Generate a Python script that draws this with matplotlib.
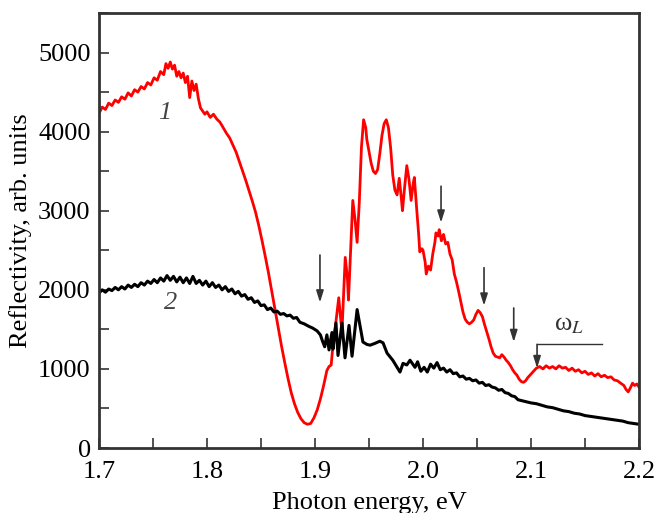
import numpy as np
import matplotlib
matplotlib.use('agg')
import matplotlib.pyplot as plt
from matplotlib.ticker import MultipleLocator

plt.rcParams['font.family'] = ['Liberation Serif', 'DejaVu Serif']
plt.rcParams['mathtext.fontset'] = 'stix'

#*********************************** DATA **************************************
red_x = [1.700, 1.703, 1.706, 1.709, 1.712, 1.715, 1.718, 1.721, 1.724, 1.727,
         1.730, 1.733, 1.736, 1.739, 1.742, 1.745, 1.748, 1.751, 1.754, 1.757,
         1.760, 1.762, 1.764, 1.766, 1.768, 1.770, 1.772, 1.774, 1.776, 1.778,
         1.780, 1.782, 1.784, 1.786, 1.788, 1.790, 1.792, 1.794, 1.796, 1.798,
         1.800, 1.803, 1.806, 1.809, 1.812, 1.815, 1.818, 1.821, 1.824, 1.827,
         1.830, 1.833, 1.836, 1.839, 1.842, 1.845, 1.848, 1.851, 1.854, 1.857,
         1.860, 1.863, 1.866, 1.869, 1.872, 1.875, 1.878, 1.881, 1.884, 1.887,
         1.890, 1.893, 1.896, 1.899, 1.902, 1.905, 1.908, 1.911, 1.913, 1.915,
         1.917, 1.919, 1.922, 1.924, 1.925, 1.927, 1.928, 1.930, 1.931, 1.933,
         1.935, 1.937, 1.939, 1.941, 1.943, 1.945, 1.947, 1.948, 1.950, 1.952,
         1.954, 1.956, 1.958, 1.960, 1.962, 1.964, 1.966, 1.968, 1.970, 1.972,
         1.974, 1.976, 1.978, 1.980, 1.981, 1.983, 1.985, 1.987, 1.989, 1.991,
         1.992, 1.994, 1.996, 1.997, 1.999, 2.000, 2.002, 2.003, 2.005, 2.007,
         2.009, 2.011, 2.012, 2.014, 2.015, 2.017, 2.019, 2.021, 2.023, 2.025,
         2.027, 2.029, 2.031, 2.033, 2.035, 2.037, 2.039, 2.041, 2.043, 2.045,
         2.047, 2.049, 2.051, 2.053, 2.055, 2.057, 2.059, 2.061, 2.063, 2.065,
         2.067, 2.069, 2.071, 2.073, 2.075, 2.077, 2.079, 2.081, 2.083, 2.085,
         2.087, 2.089, 2.091, 2.093, 2.095, 2.097, 2.099, 2.101, 2.103, 2.105,
         2.108, 2.111, 2.114, 2.117, 2.120, 2.123, 2.126, 2.129, 2.132, 2.135,
         2.138, 2.141, 2.144, 2.147, 2.150, 2.153, 2.156, 2.159, 2.162, 2.165,
         2.168, 2.171, 2.174, 2.177, 2.180, 2.183, 2.186, 2.188, 2.190, 2.192,
         2.194, 2.196, 2.198, 2.200]
red_y = [4230, 4310, 4280, 4360, 4330, 4400, 4370, 4440, 4410, 4490,
         4450, 4530, 4500, 4570, 4540, 4620, 4590, 4680, 4650, 4760,
         4720, 4860, 4800, 4880, 4790, 4840, 4700, 4760, 4680, 4740,
         4620, 4700, 4430, 4640, 4520, 4600, 4420, 4300, 4260, 4220,
         4250, 4180, 4220, 4160, 4120, 4050, 3980, 3920, 3830, 3740,
         3620, 3500, 3380, 3250, 3120, 2980, 2810, 2620, 2420, 2210,
         1980, 1750, 1520, 1290, 1080, 880, 700, 560, 450, 370,
         320, 300, 310, 380, 480, 620, 790, 980, 1030, 1050,
         1360, 1550, 1900, 1600, 1480, 2100, 2410, 2150, 1870, 2500,
         3130, 2900, 2600, 3100, 3800, 4150, 4050, 3900, 3750, 3600,
         3500, 3470, 3520, 3720, 3950, 4100, 4150, 4050, 3800, 3450,
         3260, 3200, 3410, 3150, 3000, 3300, 3570, 3400, 3130, 3350,
         3420, 3050, 2700, 2480, 2520, 2500, 2350, 2200, 2300, 2250,
         2450, 2600, 2720, 2680, 2760, 2620, 2700, 2580, 2600, 2450,
         2380, 2200, 2100, 1980, 1850, 1720, 1630, 1590, 1570, 1590,
         1620, 1690, 1740, 1710, 1660, 1560, 1470, 1380, 1280, 1200,
         1160, 1150, 1140, 1180, 1150, 1110, 1080, 1040, 990, 950,
         920, 870, 840, 830, 850, 890, 920, 950, 980, 1010,
         1030, 1000, 1040, 1010, 1030, 1000, 1040, 1010, 1020, 980,
         1010, 970, 990, 950, 970, 930, 950, 910, 940, 900,
         920, 890, 900, 860, 850, 820, 790, 740, 710, 760,
         820, 790, 810, 770]

black_x = [1.700, 1.703, 1.706, 1.709, 1.712, 1.715, 1.718, 1.721, 1.724, 1.727,
           1.730, 1.733, 1.736, 1.739, 1.742, 1.745, 1.748, 1.751, 1.754, 1.757,
           1.760, 1.763, 1.766, 1.769, 1.772, 1.775, 1.778, 1.781, 1.784, 1.787,
           1.790, 1.793, 1.796, 1.799, 1.802, 1.805, 1.808, 1.811, 1.814, 1.817,
           1.820, 1.823, 1.826, 1.829, 1.832, 1.835, 1.838, 1.841, 1.844, 1.847,
           1.850, 1.853, 1.856, 1.859, 1.862, 1.865, 1.868, 1.871, 1.874, 1.877,
           1.880, 1.883, 1.886, 1.890, 1.894, 1.898, 1.902, 1.905, 1.907, 1.909,
           1.911, 1.913, 1.9157, 1.9167, 1.9194, 1.9213, 1.925, 1.9278, 1.9315, 1.9343,
           1.939, 1.9444, 1.948, 1.951, 1.955, 1.960, 1.963, 1.9667, 1.972, 1.9787,
           1.9815, 1.985, 1.988, 1.9926, 1.995, 1.998, 2.001, 2.004,
           2.007, 2.010, 2.013, 2.016, 2.019, 2.022, 2.025, 2.028, 2.031, 2.034,
           2.037, 2.040, 2.043, 2.046, 2.049, 2.052, 2.055, 2.058, 2.061, 2.064,
           2.067, 2.070, 2.073, 2.076, 2.079, 2.082, 2.085, 2.088, 2.091, 2.094,
           2.097, 2.100, 2.105, 2.110, 2.115, 2.120, 2.125, 2.130, 2.135, 2.140,
           2.145, 2.150, 2.155, 2.160, 2.165, 2.170, 2.175, 2.180, 2.185, 2.190,
           2.195, 2.200]
black_y = [1960, 2000, 1970, 2010, 1990, 2030, 2000, 2040, 2010, 2060,
           2030, 2070, 2040, 2090, 2060, 2110, 2080, 2130, 2090, 2150,
           2110, 2180, 2120, 2170, 2100, 2160, 2090, 2150, 2080, 2170,
           2080, 2120, 2060, 2110, 2040, 2090, 2030, 2060, 2000, 2040,
           1980, 2010, 1950, 1980, 1920, 1940, 1880, 1900, 1840, 1860,
           1800, 1810, 1750, 1770, 1720, 1730, 1690, 1700, 1670, 1680,
           1640, 1650, 1590, 1570, 1540, 1515, 1480, 1430, 1350, 1280,
           1430, 1240, 1460, 1250, 1580, 1170, 1580, 1140, 1550, 1160,
           1750, 1340, 1310, 1300, 1320, 1350, 1330, 1200, 1110, 960,
           1070, 1050, 1110, 1020, 1090, 970, 1020, 960,
           1060, 1010, 1080, 990, 1010, 960, 990, 940, 950, 900,
           910, 870, 880, 850, 860, 820, 830, 790, 800, 770,
           760, 730, 740, 700, 690, 660, 650, 610, 600, 590,
           580, 570, 560, 540, 520, 510, 490, 470, 460, 440,
           430, 410, 400, 390, 380, 370, 360, 350, 340, 320,
           310, 300]

# arrows: (x, y_start, y_tip)
arrow_x = [1.9046, 2.0167, 2.0565, 2.084]
arrow_y0 = [2440, 3310, 2280, 1770]
arrow_y1 = [1840, 2850, 1800, 1340]

#*********************************** PLOT **************************************
fig = plt.figure(figsize=(6.55, 5.13), dpi=100)
ax = fig.add_axes([0.1511, 0.1267, 0.8245, 0.848])

ax.plot(red_x, red_y, color='#ff0000', lw=2)
ax.plot(black_x, black_y, color='black', lw=2.2)

for x, y0, y1 in zip(arrow_x, arrow_y0, arrow_y1):
    ax.annotate('', xy=(x, y1), xytext=(x, y0),
                arrowprops=dict(arrowstyle='-|>,head_length=0.7,head_width=0.22',
                                color='#333333', lw=1.2, shrinkA=0, shrinkB=0))

# omega_L marker
ax.plot([2.1056, 2.166], [1310, 1310], color='#333333', lw=1)
ax.annotate('', xy=(2.1056, 1010), xytext=(2.1056, 1310),
            arrowprops=dict(arrowstyle='-|>,head_length=0.7,head_width=0.22',
                            color='#333333', lw=1.2, shrinkA=0, shrinkB=0))
ax.text(2.135, 1560, r'ω$_L$', fontsize=19, ha='center', va='center', color='#333333')

ax.text(1.761, 4230, '1', fontsize=19, style='italic', color='#444444', ha='center', va='center')
ax.text(1.766, 1830, '2', fontsize=19, style='italic', color='#444444', ha='center', va='center')

ax.set_xlim(1.7, 2.2)
ax.set_ylim(0, 5500)
ax.xaxis.set_major_locator(MultipleLocator(0.1))
ax.xaxis.set_minor_locator(MultipleLocator(0.05))
ax.yaxis.set_major_locator(MultipleLocator(1000))
ax.yaxis.set_minor_locator(MultipleLocator(500))
ax.tick_params(which='both', direction='in', labelsize=19, width=1.2, color='#333333', length=7)
ax.tick_params(axis='x', pad=9)
ax.tick_params(axis='y', pad=6)
for s in ax.spines.values():
    s.set_linewidth(2)
    s.set_color('#333333')

ax.set_xlabel('Photon energy, eV', fontsize=19, labelpad=7)
ax.set_ylabel('Reflectivity, arb. units', fontsize=19, labelpad=4)

fig.savefig('out.png', dpi=100)
